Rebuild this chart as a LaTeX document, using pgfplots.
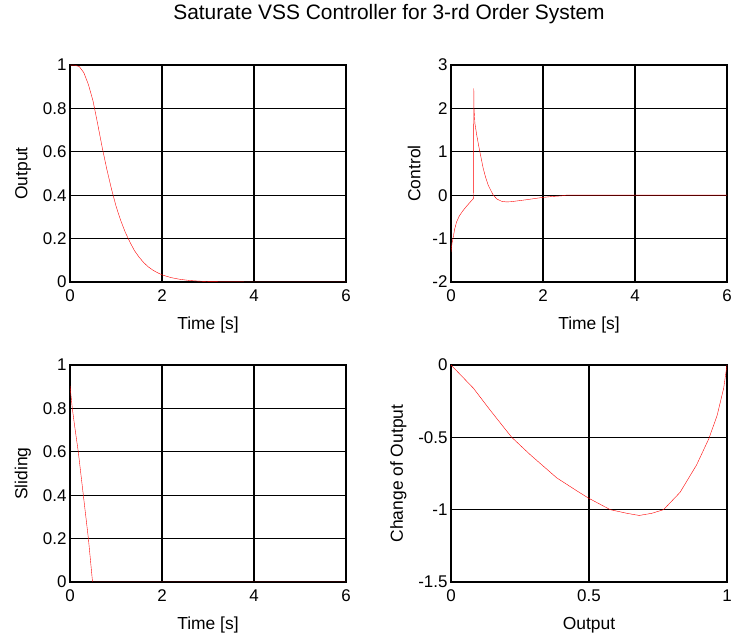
\documentclass[border=0pt]{standalone}
\usepackage{pgfplots}
\pgfplotsset{compat=1.18}
\usepackage{fontspec}
\setmainfont{Liberation Sans}

\pgfplotsset{
  vss/.style={
    scale only axis, width=276bp, height=217bp,
    anchor=south west,
    axis line style={line width=1.6pt},
    grid=major, major grid style={black, line width=1.1pt},
    tick style={draw=none},
    /pgf/number format/assume math mode=true,
    tick label style={font=\fontsize{17}{20}\selectfont},
    xticklabel style={yshift=-4pt},
    label style={font=\fontsize{17.5}{20}\selectfont},
    xlabel style={yshift=-9pt},
    ylabel style={yshift=5pt},
    cycle list={{red, line width=1.5pt, mark=none}},
  }
}

\begin{document}
\begin{tikzpicture}
\path[use as bounding box] (0bp,0bp) rectangle (733bp,636bp);
\node[font=\fontsize{21}{25}\selectfont, anchor=base] at (389bp,616bp) {Saturate VSS Controller for 3-rd Order System};

% output response
\begin{axis}[vss, at={(70bp,354bp)}, xmin=0, xmax=6, ymin=0, ymax=1,
  xtick={0,2,4,6}, ytick={0,0.2,...,1.0},
  xlabel={Time [s]}, ylabel={Output}]
\addplot coordinates {
(0,1) (0.1,0.999) (0.2,0.993) (0.3,0.965) (0.4,0.91) (0.5,0.835)
(0.6,0.73) (0.7,0.62) (0.8,0.52) (0.9,0.43) (1.0,0.35) (1.1,0.285)
(1.2,0.23) (1.3,0.185) (1.4,0.145) (1.5,0.115) (1.6,0.09) (1.7,0.07)
(1.8,0.055) (1.9,0.043) (2.0,0.033) (2.2,0.02) (2.4,0.012) (2.6,0.007)
(2.8,0.004) (3.0,0.002) (3.5,0.0005) (4,0) (6,0)};
\end{axis}

% control signal
\begin{axis}[vss, at={(451bp,354bp)}, xmin=0, xmax=6, ymin=-2, ymax=3,
  xtick={0,2,4,6}, ytick={-2,-1,...,3},
  xlabel={Time [s]}, ylabel={Control}]
\addplot coordinates {
(0,-1.31) (0.02,-1.12) (0.05,-0.96) (0.08,-0.78) (0.12,-0.62) (0.18,-0.48)
(0.25,-0.37) (0.35,-0.24) (0.45,-0.12) (0.485,-0.08) (0.49,0) (0.495,2.46)
(0.50,2.0) (0.52,1.65) (0.56,1.38) (0.6,1.15) (0.65,0.88) (0.7,0.62)
(0.75,0.42) (0.81,0.23) (0.87,0.1) (0.92,0.0) (1.0,-0.09) (1.1,-0.14)
(1.2,-0.155) (1.3,-0.15) (1.45,-0.13) (1.6,-0.11) (1.8,-0.08) (2.0,-0.05)
(2.2,-0.03) (2.4,-0.015) (2.5,0) (6,0)};
\end{axis}

% sliding surface
\begin{axis}[vss, at={(70bp,54bp)}, xmin=0, xmax=6, ymin=0, ymax=1,
  xtick={0,2,4,6}, ytick={0,0.2,...,1.0},
  xlabel={Time [s]}, ylabel={Sliding}]
\addplot coordinates {
(0,0.905) (0.05,0.8) (0.1,0.72) (0.18,0.6) (0.29,0.4) (0.4,0.2) (0.49,0) (6,0)};
\end{axis}

% phase plane
\begin{axis}[vss, at={(451bp,54bp)}, xmin=0, xmax=1, ymin=-1.5, ymax=0,
  xtick={0,0.5,1}, ytick={-1.5,-1,-0.5,0},
  xlabel={Output}, ylabel={Change of Output}]
\addplot coordinates {
(0,0) (0.081,-0.16) (0.141,-0.31) (0.22,-0.50) (0.287,-0.62) (0.383,-0.78)
(0.456,-0.87) (0.498,-0.92) (0.577,-1.0) (0.637,-1.025) (0.682,-1.04)
(0.728,-1.025) (0.77,-1.0) (0.83,-0.88) (0.89,-0.69) (0.934,-0.51)
(0.964,-0.35) (0.988,-0.16) (1.0,0)};
\end{axis}
\end{tikzpicture}
\end{document}
